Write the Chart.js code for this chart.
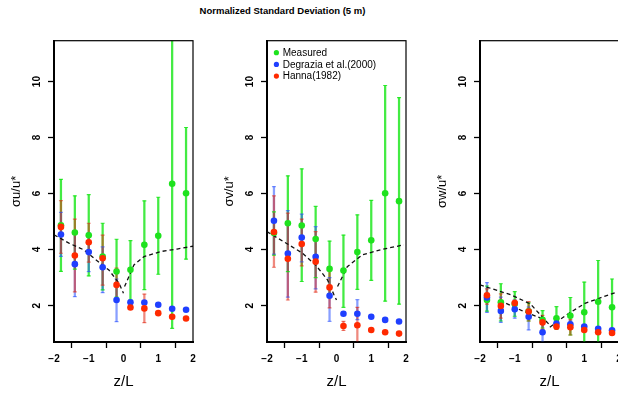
<!DOCTYPE html>
<html><head><meta charset="utf-8">
<script src="https://cdn.jsdelivr.net/npm/chart.js@4.4.0/dist/chart.umd.min.js"></script>
<style>
html,body{margin:0;padding:0;background:#fff;overflow:hidden;width:618px;height:394px;position:relative;}
.panel{position:absolute;top:0;width:213px;height:394px;}
#title{position:absolute;left:0;width:565px;top:5px;text-align:center;font:bold 9.5px "Liberation Sans",Arial,sans-serif;color:#000;}
</style></head><body>
<div id="title">Normalized Standard Deviation (5 m)</div>
<div class="panel" style="left:0px"><canvas id="c0" width="213" height="394"></canvas></div>
<div class="panel" style="left:213px"><canvas id="c1" width="213" height="394"></canvas></div>
<div class="panel" style="left:426px"><canvas id="c2" width="213" height="394"></canvas></div>
<script>
// ---- data ----
const zL = [-1.8, -1.4, -1.0, -0.6, -0.2, 0.2, 0.6, 1.0, 1.4, 1.8];
const xTickValues = [-2, -1, 0, 1, 2];
const yTickValues = [2, 4, 6, 8, 10];
const seriesNames = ['Measured', 'Degrazia et al.(2000)', 'Hanna(1982)'];
const yTitles = ['\u03c3u/u*', '\u03c3v/u*', '\u03c3w/u*'];

// sigma_u / u*
const uMeas   = [4.87, 4.61, 4.51, 3.75, 3.22, 3.28, 4.17, 4.49, 6.35, 6.01];
const uMeasHi = [6.51, 5.92, 5.96, 4.94, 4.37, 4.32, 5.74, 5.87, 12.0, 8.36];
const uMeasLo = [3.22, 3.30, 3.06, 2.56, 2.30, 2.20, 2.57, 3.12, 1.19, 3.66];
const uDeg    = [4.54, 3.48, 3.91, 3.37, 2.20, 2.12, 2.11, 2.03, 1.89, 1.85];
const uDegHi  = [5.33, 4.65, 4.60, 4.10, 2.95, null, null, null, null, null];
const uDegLo  = [3.76, 2.32, 3.21, 2.46, 1.43, null, null, null, null, null];
const uHan    = [4.81, 3.79, 4.26, 3.69, 2.74, 1.93, 1.90, 1.73, 1.60, 1.54];
const uHanHi  = [5.75, 5.09, 4.94, 4.52, 3.34, null, 2.41, null, null, null];
const uHanLo  = [3.87, 2.49, 3.55, 2.73, 2.20, null, 1.39, null, null, null];
const uCurveLX = [-2.0, -1.57, -1.14, -0.85, -0.42, -0.13, 0.0];
const uCurveLY = [4.53, 4.23, 3.99, 3.69, 3.27, 2.80, 2.44];
const uCurveRX = [0.03, 0.30, 0.59, 1.07, 1.54, 2.0];
const uCurveRY = [2.68, 3.45, 3.75, 3.93, 4.02, 4.12];

// sigma_v / u*
const vMeas   = [4.59, 4.94, 4.86, 4.38, 3.31, 3.25, 3.91, 4.33, 6.01, 5.73];
const vMeasHi = [5.35, 6.63, 6.88, 5.54, 4.30, 4.52, 5.24, 5.76, 9.86, 9.43];
const vMeasLo = [3.80, 3.21, 2.86, 3.00, 2.30, 1.94, 2.58, 2.90, 2.16, 2.05];
const vDeg    = [5.03, 3.86, 4.43, 3.74, 2.35, 1.71, 1.71, 1.60, 1.49, 1.43];
const vDegHi  = [6.25, 5.39, 5.27, 4.82, 3.00, null, 2.21, null, null, null];
const vDegLo  = [3.84, 2.30, 3.56, 2.60, 1.44, null, 1.50, null, null, null];
const vHan    = [4.63, 3.67, 4.20, 3.57, 2.65, 1.27, 1.30, 1.13, 1.05, 1.00];
const vHanHi  = [5.92, 5.30, 5.09, 4.64, 3.30, 1.44, 1.94, null, null, null];
const vHanLo  = [3.37, 2.20, 3.42, 2.48, 1.92, 1.11, 0.40, null, null, null];
const vCurveLX = [-2.0, -1.41, -0.98, -0.60, -0.26, -0.07, 0.0];
const vCurveLY = [4.64, 4.20, 3.87, 3.45, 2.92, 2.38, 2.20];
const vCurveRX = [0.03, 0.31, 0.74, 1.32, 1.94];
const vCurveRY = [2.68, 3.39, 3.81, 4.01, 4.17];

// sigma_w / u*
const wMeas   = [2.20, 2.12, 2.06, 1.80, 1.49, 1.55, 1.64, 1.76, 2.14, 1.94];
const wMeasHi = [2.70, 2.78, 2.50, 2.10, 1.82, 1.96, 2.29, 2.84, 3.61, 2.95];
const wMeasLo = [1.80, 1.45, 1.62, 1.45, 1.20, 1.16, 0.95, 0.60, 0.50, 0.95];
const wDeg    = [2.29, 1.81, 1.87, 1.60, 1.05, 1.36, 1.33, 1.25, 1.17, 1.12];
const wDegHi  = [2.82, 2.30, 2.20, 1.95, 1.40, 1.45, 1.45, null, null, null];
const wDegLo  = [1.76, 1.40, 1.55, 1.13, 0.70, 1.25, 1.20, null, null, null];
const wHan    = [2.37, 1.99, 2.09, 1.79, 1.40, 1.25, 1.23, 1.13, 1.05, 1.02];
const wHanHi  = [2.60, 2.42, 2.20, 2.14, 1.65, 1.35, 1.50, null, null, null];
const wHanLo  = [2.05, 1.55, 1.90, 1.45, 1.15, 1.15, 0.95, null, null, null];
const wCurveAX = [-2.0, -1.1, -0.55, 0.0];
const wCurveAY = [2.74, 2.38, 2.06, 1.31];
const wCurveBX = [-1.43, -0.81, -0.13];
const wCurveBY = [2.18, 1.83, 1.49];
const wCurveRX = [0.01, 0.49, 1.02, 1.88];
const wCurveRY = [1.23, 1.67, 2.08, 2.46];

// ---- styling ----
const GREEN = '#1ee21e', BLUE = '#1f3fff', RED = '#ff2a00';
const seriesColors = [GREEN, BLUE, RED];
const GREEN_BAR = 'rgba(20,230,20,0.8)', BLUE_BAR = 'rgba(40,80,255,0.55)', RED_BAR = 'rgba(225,40,20,0.55)';
Chart.defaults.font.family = '"Liberation Sans", Arial, Helvetica, sans-serif';
Chart.defaults.color = '#000';

function pts(xs, ys) { return xs.map((x, i) => ({x: x, y: ys[i]})); }
function bars(lo, hi) {
  const out = [];
  zL.forEach((x, i) => { if (lo[i] != null && hi[i] != null) out.push({x: x, y: [lo[i], hi[i]]}); });
  return out;
}
function caps(lo, hi) {
  const out = [];
  zL.forEach((x, i) => { if (lo[i] != null && hi[i] != null) { out.push({x: x, y: lo[i]}); out.push({x: x, y: hi[i]}); } });
  return out;
}
function pointSet(label, data, color, order) {
  return {type: 'scatter', label: label, data: pts(zL, data), backgroundColor: color, borderColor: color,
          pointRadius: 3.3, borderWidth: 0, order: order};
}
function barSet(lo, hi, color, order) {
  return {type: 'bar', label: '', data: bars(lo, hi), backgroundColor: color, borderWidth: 0,
          barThickness: 1.6, grouped: false, order: order};
}
function capSet(lo, hi, color, order) {
  return {type: 'scatter', label: '', data: caps(lo, hi), pointStyle: 'line', pointRadius: 2, borderWidth: 1.2,
          borderColor: color, backgroundColor: color, order: order};
}
function curveSet(xs, ys) {
  return {type: 'line', label: '', data: pts(xs, ys), borderColor: '#111', borderWidth: 1.3, borderDash: [4, 3],
          pointRadius: 0, fill: false, tension: 0, order: 4};
}

const boxPlugin = {
  id: 'box',
  afterDraw(chart) {
    const a = chart.chartArea, ctx = chart.ctx;
    ctx.save(); ctx.strokeStyle = '#000'; ctx.lineWidth = 1.2;
    ctx.strokeRect(a.left, a.top, a.right - a.left, a.bottom - a.top);
    ctx.restore();
  }
};
// in-plot legend (top-left of the chart area), drawn from the series names/colours
const insetLegend = {
  id: 'insetLegend',
  afterDraw(chart, args, opts) {
    if (!opts.show) return;
    const a = chart.chartArea, ctx = chart.ctx;
    ctx.save();
    ctx.font = '10px "Liberation Sans", Arial, sans-serif';
    ctx.textBaseline = 'middle'; ctx.textAlign = 'left';
    seriesNames.forEach((name, i) => {
      const y = a.top + 12 + i * 11.7;
      ctx.fillStyle = seriesColors[i];
      ctx.beginPath(); ctx.arc(a.left + 9.4, y, 2.6, 0, Math.PI * 2); ctx.fill();
      ctx.fillStyle = '#000';
      ctx.fillText(name, a.left + 15.7, y + 0.5);
    });
    ctx.restore();
  }
};

function makePanel(id, yTitle, m, mLo, mHi, d, dLo, dHi, h, hLo, hHi, curves, showLegend) {
  const datasets = [
    pointSet(seriesNames[0], m, GREEN, 3),
    pointSet(seriesNames[1], d, BLUE, 2),
    pointSet(seriesNames[2], h, RED, 1),
    ...curves,
    capSet(hLo, hHi, RED_BAR, 5),
    capSet(dLo, dHi, BLUE_BAR, 6),
    capSet(mLo, mHi, GREEN_BAR, 7),
    barSet(hLo, hHi, RED_BAR, 8),
    barSet(dLo, dHi, BLUE_BAR, 9),
    barSet(mLo, mHi, GREEN_BAR, 10)
  ];
  new Chart(document.getElementById(id), {
    type: 'scatter',
    data: {datasets: datasets},
    plugins: [boxPlugin, insetLegend],
    options: {
      responsive: false, animation: false, events: [],
      layout: {padding: {top: 40.7, right: 20, bottom: 0, left: 0}},
      plugins: {
        title: {display: false}, tooltip: {enabled: false},
        legend: {display: false},
        insetLegend: {show: showLegend}
      },
      scales: {
        x: {
          type: 'linear', min: -2, max: 2, offset: false,
          afterBuildTicks: (s) => { s.ticks = xTickValues.map(v => ({value: v})); },
          afterFit: (s) => { s.height = 52; },
          ticks: {font: {size: 10, weight: 'bold'}, color: '#000', padding: 5, maxRotation: 0,
                  callback: (v) => (v < 0 ? '\u2212' + Math.abs(v) : String(v))},
          grid: {drawOnChartArea: false, drawTicks: true, tickLength: 6, color: '#000', tickWidth: 1.3},
          border: {display: true, color: '#000', width: 2},
          title: {display: true, text: 'z/L', font: {size: 15}, color: '#000', padding: {top: 0, bottom: 3}}
        },
        y: {
          type: 'linear', min: 0.7, max: 11.46,
          afterBuildTicks: (s) => { s.ticks = yTickValues.map(v => ({value: v})); },
          afterFit: (s) => { s.width = 54; },
          ticks: {font: {size: 10, weight: 'bold'}, color: '#000', padding: 5.4, minRotation: 90, maxRotation: 90,
                  crossAlign: 'center'},
          grid: {drawOnChartArea: false, drawTicks: true, tickLength: 6, color: '#000', tickWidth: 1.3},
          border: {display: true, color: '#000', width: 2},
          title: {display: true, text: yTitle, font: {size: 13}, color: '#000', padding: {top: 9, bottom: 0}}
        }
      }
    }
  });
}

makePanel('c0', yTitles[0], uMeas, uMeasLo, uMeasHi, uDeg, uDegLo, uDegHi, uHan, uHanLo, uHanHi,
  [curveSet(uCurveLX, uCurveLY), curveSet(uCurveRX, uCurveRY)], false);
makePanel('c1', yTitles[1], vMeas, vMeasLo, vMeasHi, vDeg, vDegLo, vDegHi, vHan, vHanLo, vHanHi,
  [curveSet(vCurveLX, vCurveLY), curveSet(vCurveRX, vCurveRY)], true);
makePanel('c2', yTitles[2], wMeas, wMeasLo, wMeasHi, wDeg, wDegLo, wDegHi, wHan, wHanLo, wHanHi,
  [curveSet(wCurveAX, wCurveAY), curveSet(wCurveBX, wCurveBY), curveSet(wCurveRX, wCurveRY)], false);
</script>
</body></html>
